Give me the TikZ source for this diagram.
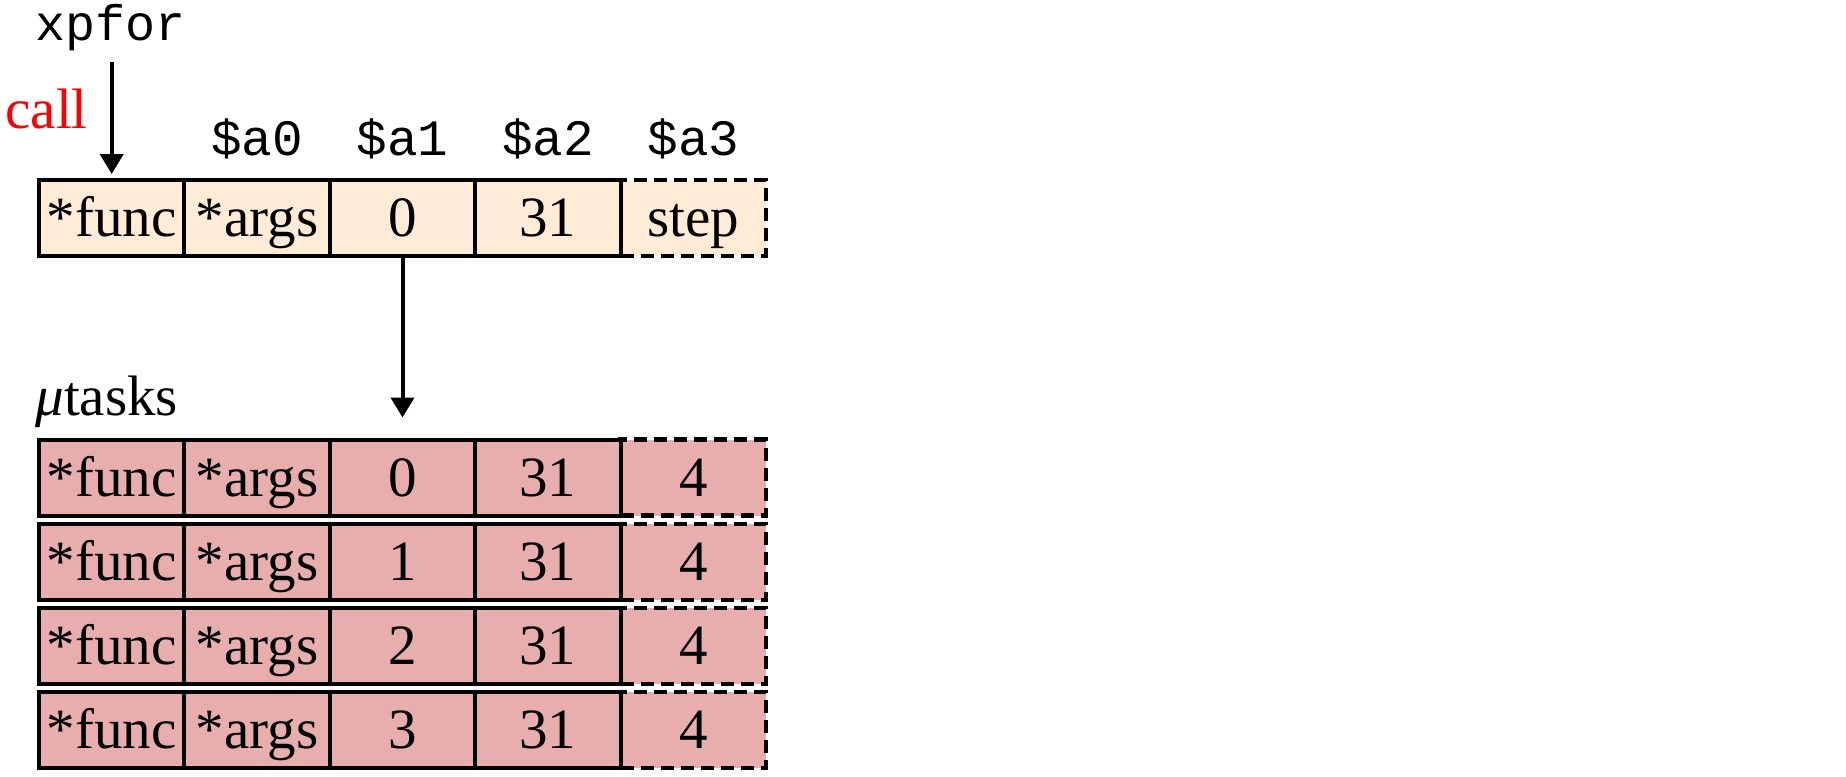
\documentclass[tikz,border=0pt]{standalone}
\usepackage{fontspec}
\setmainfont{Liberation Serif}
\setmonofont{Liberation Mono}
\usetikzlibrary{arrows.meta}
\definecolor{peach}{RGB}{255,235,214}
\definecolor{rose}{RGB}{232,174,174}
\definecolor{callred}{RGB}{255,0,0}
\begin{document}
\begin{tikzpicture}[x=0.5pt,y=-0.5pt,
  cell/.style={draw, line width=2pt, minimum width=72.7pt, minimum height=38pt,
    inner sep=0pt, outer sep=0pt, font=\fontsize{28.5}{30}\selectfont,
    text height=18.9pt, text depth=0pt},
  dcell/.style={cell, line width=2.2pt, dash pattern=on 6.5pt off 3.5pt},
  topfill/.style={fill=peach},
  lowfill/.style={fill=rose},
  reg/.style={font=\ttfamily\fontsize{25.5}{27}\selectfont, anchor=base, inner sep=0pt},
  lbl/.style={font=\fontsize{28.5}{30}\selectfont, anchor=base west, inner sep=0pt},
  arr/.style={line width=2pt, -{Triangle[length=10pt,width=11.5pt]}}]

\useasboundingbox (0,0) rectangle (1846,776);

% top row
\node[dcell,topfill] (t5) at (693.3,218) {step};
\node[cell,topfill] (t1) at (111.7,218) {*func};
\node[cell,topfill] (t2) at (257.1,218) {*args};
\node[cell,topfill] (t3) at (402.5,218) {0};
\node[cell,topfill] (t4) at (547.9,218) {31};

% register labels
\node[reg] (a0) at (257.1,155) {\$a0};
\node[reg] (a1) at (402.5,155) {\$a1};
\node[reg] (a2) at (547.9,155) {\$a2};
\node[reg] (a3) at (693.3,155) {\$a3};

% texts
\node[font=\ttfamily\fontsize{25}{27}\selectfont, anchor=base west, inner sep=0pt] (xp) at (35,40) {xpfor};
\node[lbl, text=callred] (call) at (5,128) {call};
\node[lbl] (mt) at (35,415) {{\itshape μ}tasks};

% micro-task rows
\foreach \i/\y in {1/477.5,2/562,3/646,4/730} {
  \pgfmathtruncatemacro\k{\i-1}
  \node[dcell,lowfill] (r\i-5) at (693.3,\y) {4};
  \node[cell,lowfill] (r\i-1) at (111.7,\y) {*func};
  \node[cell,lowfill] (r\i-2) at (257.1,\y) {*args};
  \node[cell,lowfill] (r\i-3) at (402.5,\y) {\k};
  \node[cell,lowfill] (r\i-4) at (547.9,\y) {31};
}

% arrows
\coordinate (xpend) at (111.7,62);
\draw[arr] (xpend) -- ([yshift=3pt]t1.north);
\draw[arr] (t3.south) -- ([yshift=11pt]r1-3.north);
\end{tikzpicture}
\end{document}
